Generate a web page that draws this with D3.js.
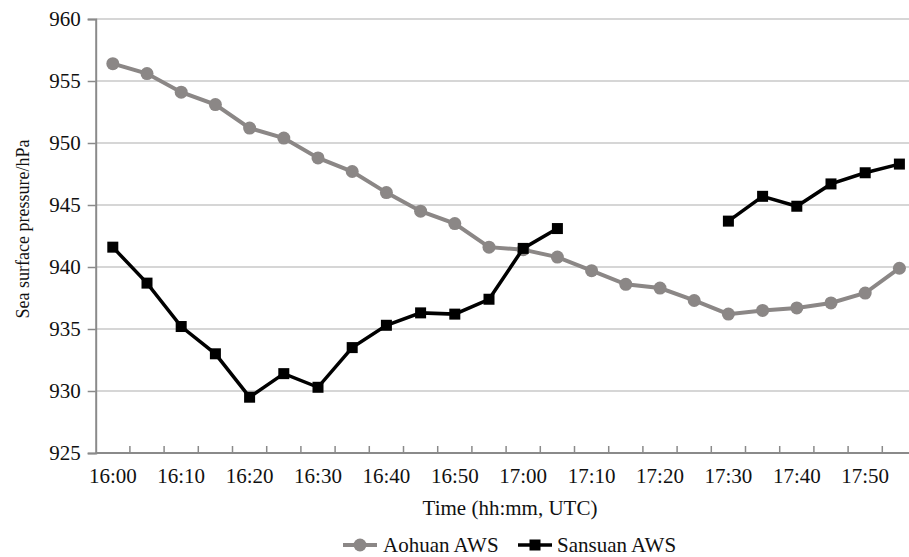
<!DOCTYPE html>
<html><head><meta charset="utf-8">
<script src="https://cdn.jsdelivr.net/npm/d3@7"></script>
<style>body{margin:0;background:#fff}svg{display:block}text{font-family:"Liberation Serif","Times New Roman",serif;fill:#111}</style>
</head><body><svg id="c" width="909" height="557"></svg>
<script>
const times = ["16:00","16:05","16:10","16:15","16:20","16:25","16:30","16:35","16:40","16:45","16:50","16:55","17:00","17:05","17:10","17:15","17:20","17:25","17:30","17:35","17:40","17:45","17:50","17:55"];
const tickLabels = ["16:00","16:10","16:20","16:30","16:40","16:50","17:00","17:10","17:20","17:30","17:40","17:50"];
const aohuan = [956.4,955.6,954.1,953.1,951.2,950.4,948.8,947.7,946.0,944.5,943.5,941.6,941.4,940.8,939.7,938.6,938.3,937.3,936.2,936.5,936.7,937.1,937.9,939.9];
const sansuan = [941.6,938.7,935.2,933.0,929.5,931.4,930.3,933.5,935.3,936.3,936.2,937.4,941.5,943.1,null,null,null,null,943.7,945.7,944.9,946.7,947.6,948.3];
const yTicks = [925,930,935,940,945,950,955,960];

(function(){
const svg = d3.select("#c");
const left = 95.7, bandW = 34.2, plotTop = 19, plotBottom = 453;
const x = d3.scaleBand().domain(times).range([left, left + bandW * times.length]).padding(0);
const y = d3.scaleLinear().domain([925, 960]).range([plotBottom, plotTop]);
const axisCol = "#8a8a8a", gridCol = "#c9c9c9";
const fs = 21;

svg.append("g").selectAll("line").data(yTicks.slice(1)).join("line")
  .attr("x1", left).attr("x2", 909).attr("y1", d => y(d)).attr("y2", d => y(d))
  .attr("stroke", gridCol).attr("stroke-width", 1.5);

const ya = svg.append("g").attr("transform", `translate(${left},0)`)
  .call(d3.axisLeft(y).tickValues(yTicks).tickSize(8).tickPadding(7));
ya.select(".domain").attr("stroke", axisCol).attr("stroke-width", 2);
ya.selectAll(".tick line").attr("stroke", axisCol).attr("stroke-width", 1.5);
ya.selectAll(".tick text").attr("font-size", fs).attr("font-family", "Liberation Serif").attr("fill", "#111");

const xg = svg.append("g").attr("transform", `translate(0,${plotBottom})`);
xg.append("line").attr("x1", left).attr("x2", 909).attr("y1", 0).attr("y2", 0).attr("stroke", axisCol).attr("stroke-width", 2);
const bounds = times.map(t => x(t)).concat([x(times[times.length-1]) + x.bandwidth()]);
xg.selectAll("line.tk").data(bounds.slice(1)).join("line").attr("class","tk")
  .attr("x1", d => d).attr("x2", d => d).attr("y1", 0).attr("y2", -7)
  .attr("stroke", axisCol).attr("stroke-width", 1.5);
xg.selectAll("text").data(tickLabels).join("text")
  .attr("x", d => x(d) + x.bandwidth() / 2).attr("y", 30)
  .attr("text-anchor", "middle").attr("font-size", fs).text(d => d);

svg.append("text").attr("x", 510).attr("y", 515).attr("text-anchor", "middle").attr("font-size", fs).text("Time (hh:mm, UTC)");
svg.append("text").attr("transform", `translate(29,229) rotate(-90)`).attr("text-anchor", "middle").attr("font-size", 18).text("Sea surface pressure/hPa");

const cx = d => x(d) + x.bandwidth() / 2;
const greyCol = "#8b8786";

const aData = times.map((t, i) => ({t, v: aohuan[i]}));
svg.append("path").datum(aData)
  .attr("d", d3.line().defined(d => d.v != null).x(d => cx(d.t)).y(d => y(d.v)))
  .attr("fill", "none").attr("stroke", greyCol).attr("stroke-width", 4);
svg.append("g").selectAll("circle").data(aData).join("circle")
  .attr("cx", d => cx(d.t)).attr("cy", d => y(d.v)).attr("r", 6.5).attr("fill", greyCol);

const sData = times.map((t, i) => ({t, v: sansuan[i]}));
svg.append("path").datum(sData)
  .attr("d", d3.line().defined(d => d.v != null).x(d => cx(d.t)).y(d => y(d.v)))
  .attr("fill", "none").attr("stroke", "#000").attr("stroke-width", 3.5);
svg.append("g").selectAll("rect").data(sData.filter(d => d.v != null)).join("rect")
  .attr("x", d => cx(d.t) - 5.5).attr("y", d => y(d.v) - 5.5).attr("width", 11).attr("height", 11).attr("fill", "#000");

const lg = svg.append("g");
lg.append("line").attr("x1", 343).attr("x2", 377).attr("y1", 545).attr("y2", 545).attr("stroke", greyCol).attr("stroke-width", 4);
lg.append("circle").attr("cx", 360).attr("cy", 545).attr("r", 6.5).attr("fill", greyCol);
lg.append("text").attr("x", 383).attr("y", 552).attr("font-size", fs).text("Aohuan AWS");
lg.append("line").attr("x1", 518).attr("x2", 552).attr("y1", 545).attr("y2", 545).attr("stroke", "#000").attr("stroke-width", 3.5);
lg.append("rect").attr("x", 529.5).attr("y", 539.5).attr("width", 11).attr("height", 11).attr("fill", "#000");
lg.append("text").attr("x", 557).attr("y", 552).attr("font-size", fs).text("Sansuan AWS");
})();
</script></body></html>
